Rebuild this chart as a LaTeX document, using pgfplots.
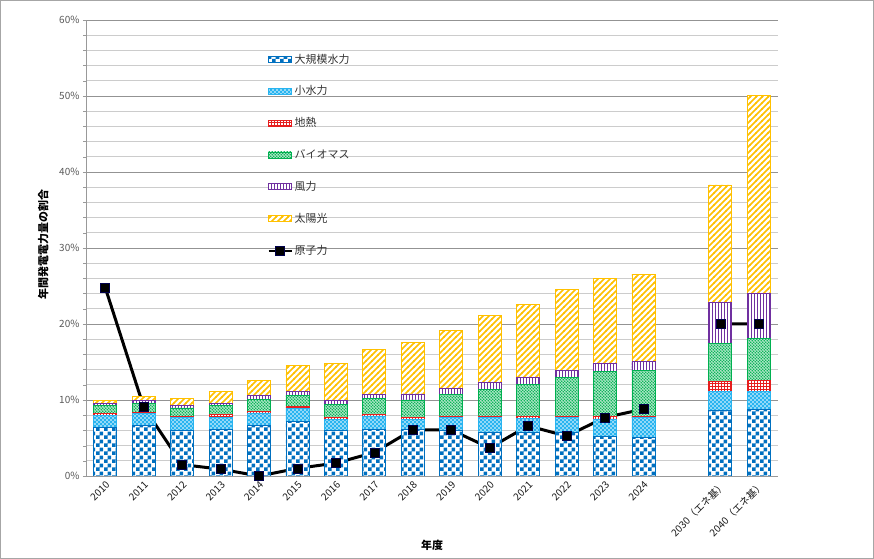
\documentclass[border=0pt]{standalone}
\usepackage{fontspec}
\setmainfont{Noto Sans CJK JP}
\usepackage{pgfplots}
\pgfplotsset{compat=1.18}
\usepackage{pgfplotstable}
\usetikzlibrary{patterns}

\definecolor{hblue}{RGB}{0,112,192}
\definecolor{sblue}{RGB}{40,180,240}
\definecolor{gred}{RGB}{230,30,30}
\definecolor{bgreen}{RGB}{0,176,80}
\definecolor{wpurple}{RGB}{112,48,160}
\definecolor{syellow}{RGB}{255,192,0}
\definecolor{tickgray}{RGB}{89,89,89}

\pgfdeclarepatternformonly{pchecker}{\pgfpointorigin}{\pgfqpoint{8bp}{8bp}}{\pgfqpoint{8bp}{8bp}}{%
  \pgfpathrectangle{\pgfpointorigin}{\pgfqpoint{4.05bp}{4.05bp}}%
  \pgfpathrectangle{\pgfqpoint{4bp}{4bp}}{\pgfqpoint{4.05bp}{4.05bp}}%
  \pgfusepath{fill}}
\pgfdeclarepatternformonly{pwdots}{\pgfqpoint{-1bp}{-1bp}}{\pgfqpoint{5bp}{5bp}}{\pgfqpoint{4bp}{4bp}}{%
  \pgfpathcircle{\pgfqpoint{1bp}{1bp}}{0.9bp}%
  \pgfpathcircle{\pgfqpoint{3bp}{3bp}}{0.9bp}%
  \pgfusepath{fill}}
\pgfdeclarepatternformonly{pgrid}{\pgfqpoint{-0.5bp}{-0.5bp}}{\pgfqpoint{3.5bp}{3.5bp}}{\pgfqpoint{3bp}{3bp}}{%
  \pgfsetlinewidth{0.9bp}%
  \pgfpathmoveto{\pgfqpoint{-0.5bp}{1.5bp}}\pgfpathlineto{\pgfqpoint{3.5bp}{1.5bp}}%
  \pgfpathmoveto{\pgfqpoint{1.5bp}{-0.5bp}}\pgfpathlineto{\pgfqpoint{1.5bp}{3.5bp}}%
  \pgfusepath{stroke}}
\pgfdeclarepatternformonly{pgdots}{\pgfqpoint{-1bp}{-1bp}}{\pgfqpoint{4bp}{4bp}}{\pgfqpoint{3bp}{3bp}}{%
  \pgfpathcircle{\pgfqpoint{0.75bp}{0.75bp}}{0.8bp}%
  \pgfpathcircle{\pgfqpoint{2.25bp}{2.25bp}}{0.8bp}%
  \pgfusepath{fill}}
\pgfdeclarepatternformonly{pvlines}{\pgfqpoint{0bp}{-1bp}}{\pgfqpoint{3bp}{4bp}}{\pgfqpoint{3bp}{3bp}}{%
  \pgfsetlinewidth{1.3bp}%
  \pgfpathmoveto{\pgfqpoint{1.5bp}{-1bp}}\pgfpathlineto{\pgfqpoint{1.5bp}{4bp}}%
  \pgfusepath{stroke}}
\pgfdeclarepatternformonly{pnelines}{\pgfqpoint{-1bp}{-1bp}}{\pgfqpoint{7bp}{7bp}}{\pgfqpoint{6bp}{6bp}}{%
  \pgfsetlinewidth{1.7bp}%
  \pgfpathmoveto{\pgfqpoint{-0.5bp}{-0.5bp}}\pgfpathlineto{\pgfqpoint{6.5bp}{6.5bp}}%
  \pgfusepath{stroke}}

\pgfplotsset{
  barlegend/.style={legend image code/.code={\draw[##1] (0bp,-3bp) rectangle (23bp,3bp);}},
  nuclegend/.style={legend image code/.code={\draw[mark repeat=2,mark phase=2,##1, line width=2bp] plot coordinates {(0bp,0bp) (11.5bp,0bp) (23bp,0bp)};}},
}

\pgfplotstableread{
x lh sh geo bio wind solar
0 6.4 1.6 0.2 1.1 0.3 0.3
1 6.7 1.5 0.2 1.2 0.35 0.55
2 6.05 1.6 0.2 1.1 0.3 0.9
3 6.15 1.6 0.3 1.2 0.35 1.5
4 6.6 1.7 0.2 1.6 0.45 2.05
5 7.15 1.75 0.2 1.55 0.45 3.5
6 5.95 1.5 0.25 1.75 0.5 4.85
7 6.15 1.75 0.25 2.05 0.55 5.9
8 6.15 1.3 0.25 2.3 0.8 6.75
9 6.05 1.65 0.2 2.85 0.8 7.65
10 5.8 1.9 0.2 3.5 0.85 8.9
11 5.8 1.8 0.3 4.2 0.9 9.6
12 5.8 1.9 0.2 5.1 0.85 10.7
13 5.2 2.3 0.4 5.85 1.1 11.2
14 5.1 2.55 0.25 5.95 1.2 11.5
16 8.6 2.5 1.3 5.05 5.35 15.5
17 8.8 2.3 1.5 5.5 5.9 26.1
}\bars

\pgfplotstableread{
x nuc
0 24.8
1 9.1
2 1.5
3 0.9
4 0.0
5 1.0
6 1.7
7 3.1
8 6.1
9 6.05
10 3.7
11 6.6
12 5.25
13 7.7
14 8.8
15 nan
16 20.0
17 20.0
}\nuc

\begin{document}
\begin{tikzpicture}
\useasboundingbox (0,0) rectangle (874bp,559bp);
\draw[gray!70, line width=1.2bp] (0.8bp,0.8bp) rectangle (873.2bp,558.2bp);
\begin{axis}[
  at={(86bp,83bp)}, anchor=south west,
  scale only axis, width=692bp, height=456bp,
  ybar stacked, bar width=23bp,
  xmin=-0.5, xmax=17.5, ymin=0, ymax=60,
  xtick={0,1,2,3,4,5,6,7,8,9,10,11,12,13,14,16,17},
  xticklabels={2010,2011,2012,2013,2014,2015,2016,2017,2018,2019,2020,2021,2022,2023,2024,2030（エネ基）,2040（エネ基）},
  ytick={0,10,20,30,40,50,60}, minor y tick num=4,
  ymajorgrids, yminorgrids,
  major grid style={draw=gray!85, line width=0.8bp},
  minor grid style={draw=gray!40, line width=0.8bp},
  axis x line*=bottom, axis y line*=left,
  axis line style={draw=gray!80, line width=0.8bp},
  xtick style={draw=none}, ytick style={draw=gray!80},
  minor tick style={draw=none},
  major tick length=3bp, tick align=outside,
  /pgf/number format/assume math mode=true,
  yticklabel={\pgfmathprintnumber{\tick}\%},
  tick label style={font=\fontsize{10}{12}\selectfont, text=tickgray},
  xticklabel style={rotate=45, anchor=north east, inner sep=1bp, text=black!90},
  xlabel={年度}, ylabel={年間発電電力量の割合},
  every axis x label/.style={at={(axis description cs:0.5,-0.151)}, anchor=center, font=\bfseries\fontsize{11}{13}\selectfont},
  every axis y label/.style={at={(axis description cs:-0.062,0.507)}, rotate=90, anchor=center, font=\bfseries\fontsize{11}{13}\selectfont},
  legend style={at={(0.258,0.935)}, anchor=north west, draw=none, fill=none, font=\fontsize{11}{13}\selectfont, text=black!80, row sep=17.3bp, cells={anchor=west}},
  barlegend,
]
\addplot[draw=hblue, line width=0.8bp, preaction={fill=white}, pattern=pchecker, pattern color=hblue] table[x=x,y=lh]{\bars};
\addlegendentry{大規模水力}
\addplot[draw=sblue, line width=0.8bp, preaction={fill=sblue}, pattern=pwdots, pattern color=white] table[x=x,y=sh]{\bars};
\addlegendentry{小水力}
\addplot[draw=gred, line width=0.8bp, preaction={fill=white}, pattern=pgrid, pattern color=gred] table[x=x,y=geo]{\bars};
\addlegendentry{地熱}
\addplot[draw=bgreen, line width=0.8bp, preaction={fill=bgreen!25!white}, pattern=pgdots, pattern color=bgreen] table[x=x,y=bio]{\bars};
\addlegendentry{バイオマス}
\addplot[draw=wpurple, line width=0.8bp, preaction={fill=white}, pattern=pvlines, pattern color=wpurple] table[x=x,y=wind]{\bars};
\addlegendentry{風力}
\addplot[draw=syellow, line width=0.8bp, preaction={fill=white}, pattern=pnelines, pattern color=syellow] table[x=x,y=solar]{\bars};
\addlegendentry{太陽光}
\addplot[stack plots=false, sharp plot, unbounded coords=jump, draw=black, line width=3bp,
  mark=square*, mark size=4.5bp, mark options={solid, fill=black, draw=black!70!blue, line width=0.6bp},
  nuclegend]
  table[x=x,y=nuc]{\nuc};
\addlegendentry{原子力}
\end{axis}
\end{tikzpicture}
\end{document}
